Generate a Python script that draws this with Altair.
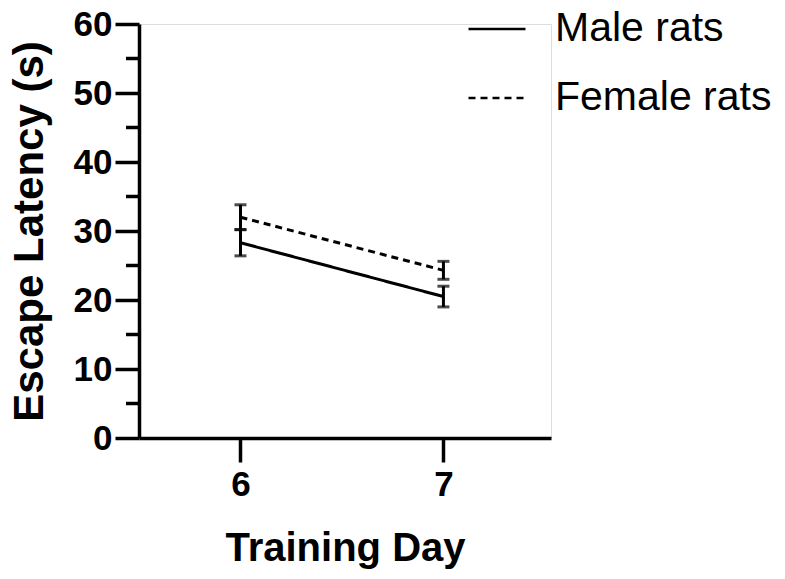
import altair as alt
import pandas as pd

# Escape latency per training day (mean ± SEM)
days = [6, 7]
male_mean = [28.3, 20.5]
male_sem = [1.9, 1.5]
female_mean = [32.0, 24.3]
female_sem = [1.8, 1.3]
groups = ["Male rats", "Female rats"]

y_major = [0, 10, 20, 30, 40, 50, 60]
y_minor = [5, 15, 25, 35, 45, 55]

rows = []
for g, means, sems in [(groups[0], male_mean, male_sem), (groups[1], female_mean, female_sem)]:
    for d, m, s in zip(days, means, sems):
        rows.append({"day": d, "group": g, "mean": m, "lo": m - s, "hi": m + s})
df = pd.DataFrame(rows)
minor_df = pd.DataFrame({"v": y_minor})

FONT = "Liberation Sans"
W, H = 412, 414

x_scale = alt.Scale(domain=[5.5, 7.53], nice=False, zero=False)
y_scale = alt.Scale(domain=[0, 60], nice=False)

x_axis = alt.Axis(
    values=days, format="d", title="Training Day",
    domainWidth=3.5, domainColor="black", tickWidth=3.5, tickColor="black",
    tickSize=24, labelFont=FONT, labelFontWeight="bold", labelFontSize=35,
    labelColor="black", labelPadding=5, titleFont=FONT, titleFontWeight="bold",
    titleFontSize=40, titleColor="black", titlePadding=26, grid=False,
)
y_axis = alt.Axis(
    values=y_major, format="d", title="Escape Latency (s)",
    domainWidth=3.5, domainColor="black", tickWidth=3.5, tickColor="black",
    tickSize=24, labelFont=FONT, labelFontWeight="bold", labelFontSize=35,
    labelColor="black", labelPadding=3, titleFont=FONT, titleFontWeight="bold",
    titleFontSize=42, titleColor="black", titlePadding=22, grid=False,
)

dash = alt.StrokeDash(
    "group:N",
    scale=alt.Scale(domain=groups, range=[[1, 0], [7, 5]]),
    legend=alt.Legend(
        title=None, orient="none", legendX=328, legendY=-25,
        symbolType="stroke", symbolSize=3249, symbolStrokeWidth=2.5,
        symbolStrokeColor="black", labelFont=FONT, labelLimit=0,
        labelFontSize=41, labelColor="black", labelOffset=28, rowPadding=19,
        padding=0,
    ),
)

base = alt.Chart(df)

lines = base.mark_line(color="black", strokeWidth=3).encode(
    x=alt.X("day:Q", scale=x_scale, axis=x_axis),
    y=alt.Y("mean:Q", scale=y_scale, axis=y_axis),
    strokeDash=dash,
    detail="group:N",
)

bars = base.mark_rule(color="black", strokeWidth=3).encode(
    x="day:Q", y="lo:Q", y2="hi:Q",
)
caps_hi = base.mark_tick(color="black", orient="horizontal", size=12, thickness=3).encode(
    x="day:Q", y="hi:Q",
)
caps_lo = base.mark_tick(color="black", orient="horizontal", size=12, thickness=3).encode(
    x="day:Q", y="lo:Q",
)

minor = alt.Chart(minor_df).mark_rule(color="black", strokeWidth=3.5).encode(
    x=alt.value(-13), x2=alt.value(0), y=alt.Y("v:Q", scale=y_scale),
)

chart = (
    alt.layer(lines, bars, caps_hi, caps_lo, minor)
    .properties(
        width=W, height=H,
        autosize=alt.AutoSizeParams(type="none"),
        padding={"left": 139, "top": 24, "right": 785 - 139 - W, "bottom": 579 - 24 - H},
    )
    .configure_view(stroke=None)
    .configure(background="white")
)

chart.save("out.html", embed_options={"renderer": "svg", "actions": False})
